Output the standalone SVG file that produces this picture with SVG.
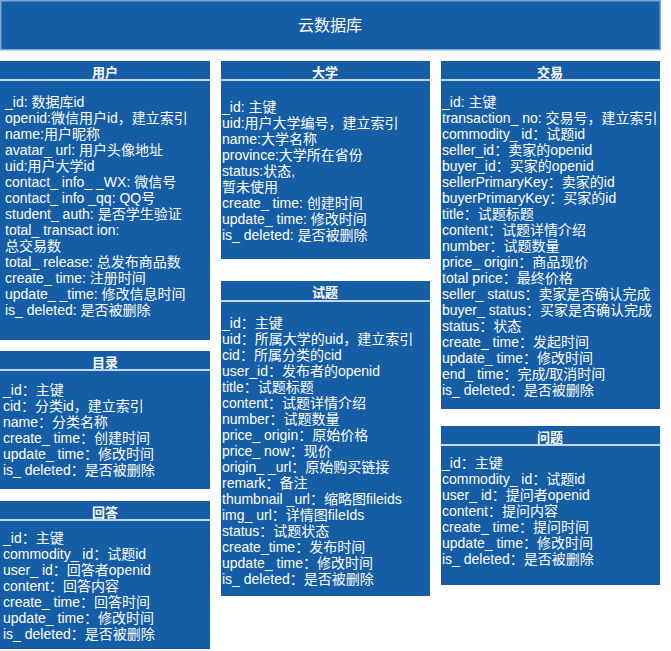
<svg xmlns="http://www.w3.org/2000/svg" width="671" height="651" viewBox="0 0 671 651">
<style>
.box{fill:#155DA4;}
.title{fill:#155DA4;stroke:#7EA6D8;stroke-width:1.5;}
.sep{stroke:#FFFFFF;stroke-width:1.5;}
text{font-family:"Liberation Sans","Noto Sans CJK SC",sans-serif;fill:#FFFFFF;}
.h{font-size:13px;font-weight:bold;text-anchor:middle;}
.t{font-size:14px;}
</style>
<rect width="671" height="651" fill="#FFFFFF"/>
<g id="title">
<rect class="title" x="0.75" y="0.75" width="659.5" height="49"/>
<text x="330" y="31" style="font-size:16px;text-anchor:middle">云数据库</text>
</g>
<g id="connectors"></g>
<g id="user">
<rect class="box" x="0" y="61" width="210" height="279"/>
<line class="sep" x1="0" y1="80" x2="210" y2="80"/>
<text class="h" x="105" y="77">用户</text>
<g class="t">
<text x="5" y="107">_id: 数据库id</text>
<text x="5" y="123">openid:微信用户id，建立索引</text>
<text x="5" y="139">name:用户昵称</text>
<text x="5" y="155">avatar_ url: 用户头像地址</text>
<text x="5" y="171">uid:用户大学id</text>
<text x="5" y="187">contact_ info_ _WX: 微信号</text>
<text x="5" y="203">contact_ info _qq: QQ号</text>
<text x="5" y="219">student_ auth: 是否学生验证</text>
<text x="5" y="235">total_ transact ion:</text>
<text x="5" y="251">总交易数</text>
<text x="5" y="267">total_ release: 总发布商品数</text>
<text x="5" y="283">create_ time: 注册时间</text>
<text x="5" y="299">update_ _time: 修改信息时间</text>
<text x="5" y="315">is_ deleted: 是否被删除</text>
</g>
</g>
<g id="catalog">
<rect class="box" x="0" y="351" width="210" height="138"/>
<line class="sep" x1="0" y1="370" x2="210" y2="370"/>
<text class="h" x="105" y="367">目录</text>
<g class="t">
<text x="3" y="395">_id：主键</text>
<text x="3" y="411">cid：分类id，建立索引</text>
<text x="3" y="427">name：分类名称</text>
<text x="3" y="443">create_ time：创建时间</text>
<text x="3" y="459">update_ time：修改时间</text>
<text x="3" y="475">is_ deleted：是否被删除</text>
</g>
</g>
<g id="answer">
<rect class="box" x="0" y="501" width="210" height="148"/>
<line class="sep" x1="0" y1="520" x2="210" y2="520"/>
<text class="h" x="105" y="517">回答</text>
<g class="t">
<text x="3" y="543">_id：主键</text>
<text x="3" y="559">commodity_ id：试题id</text>
<text x="3" y="575">user_ id：回答者openid</text>
<text x="3" y="591">content：回答内容</text>
<text x="3" y="607">create_ time：回答时间</text>
<text x="3" y="623">update_ time：修改时间</text>
<text x="3" y="639">is_ deleted：是否被删除</text>
</g>
</g>
<g id="university">
<rect class="box" x="221" y="61" width="209" height="198"/>
<line class="sep" x1="221" y1="80" x2="430" y2="80"/>
<text class="h" x="325" y="77">大学</text>
<g class="t">
<text x="222" y="112">_id: 主键</text>
<text x="222" y="128">uid:用户大学编号，建立索引</text>
<text x="222" y="144">name:大学名称</text>
<text x="222" y="160">province:大学所在省份</text>
<text x="222" y="176">status:状态,</text>
<text x="222" y="192">暂未使用</text>
<text x="222" y="208">create_ time: 创建时间</text>
<text x="222" y="224">update_ time: 修改时间</text>
<text x="222" y="240">is_ deleted: 是否被删除</text>
</g>
</g>
<g id="question">
<rect class="box" x="221" y="281" width="209" height="315"/>
<line class="sep" x1="221" y1="301" x2="430" y2="301"/>
<text class="h" x="325" y="297">试题</text>
<g class="t">
<text x="222" y="328">_id：主键</text>
<text x="222" y="344">uid：所属大学的uid，建立索引</text>
<text x="222" y="360">cid：所属分类的cid</text>
<text x="222" y="376">user_id：发布者的openid</text>
<text x="222" y="392">title：试题标题</text>
<text x="222" y="408">content：试题详情介绍</text>
<text x="222" y="424">number：试题数量</text>
<text x="222" y="440">price_ origin：原始价格</text>
<text x="222" y="456">price_ now：现价</text>
<text x="222" y="472">origin_ _url：原始购买链接</text>
<text x="222" y="488">remark：备注</text>
<text x="222" y="504">thumbnail _url：缩略图fileids</text>
<text x="222" y="520">img_ url：详情图fileIds</text>
<text x="222" y="536">status：试题状态</text>
<text x="222" y="552">create_time：发布时间</text>
<text x="222" y="568">update_ time：修改时间</text>
<text x="222" y="584">is_ deleted：是否被删除</text>
</g>
</g>
<g id="transaction">
<rect class="box" x="441" y="61" width="219" height="348"/>
<line class="sep" x1="441" y1="80" x2="660" y2="80"/>
<text class="h" x="550" y="77">交易</text>
<g class="t">
<text x="442" y="107">_id: 主键</text>
<text x="442" y="123">transaction_ no: 交易号，建立索引</text>
<text x="442" y="139">commodity_ id：试题id</text>
<text x="442" y="155">seller_id：卖家的openid</text>
<text x="442" y="171">buyer_id：买家的openid</text>
<text x="442" y="187">sellerPrimaryKey：卖家的id</text>
<text x="442" y="203">buyerPrimaryKey：买家的id</text>
<text x="442" y="219">title：试题标题</text>
<text x="442" y="235">content：试题详情介绍</text>
<text x="442" y="251">number：试题数量</text>
<text x="442" y="267">price_ origin：商品现价</text>
<text x="442" y="283">total price：最终价格</text>
<text x="442" y="299">seller_ status：卖家是否确认完成</text>
<text x="442" y="315">buyer_ status：买家是否确认完成</text>
<text x="442" y="331">status：状态</text>
<text x="442" y="347">create_ time：发起时间</text>
<text x="442" y="363">update_ time：修改时间</text>
<text x="442" y="379">end_ time：完成/取消时间</text>
<text x="442" y="395">is_ deleted：是否被删除</text>
</g>
</g>
<g id="ask">
<rect class="box" x="441" y="426" width="219" height="159"/>
<line class="sep" x1="441" y1="445" x2="660" y2="445"/>
<text class="h" x="550" y="442">问题</text>
<g class="t">
<text x="442" y="468">_id：主键</text>
<text x="442" y="484">commodity_ id：试题id</text>
<text x="442" y="500">user_ id：提问者openid</text>
<text x="442" y="516">content：提问内容</text>
<text x="442" y="532">create_ time：提问时间</text>
<text x="442" y="548">update_ time：修改时间</text>
<text x="442" y="564">is_ deleted：是否被删除</text>
</g>
</g>
</svg>
